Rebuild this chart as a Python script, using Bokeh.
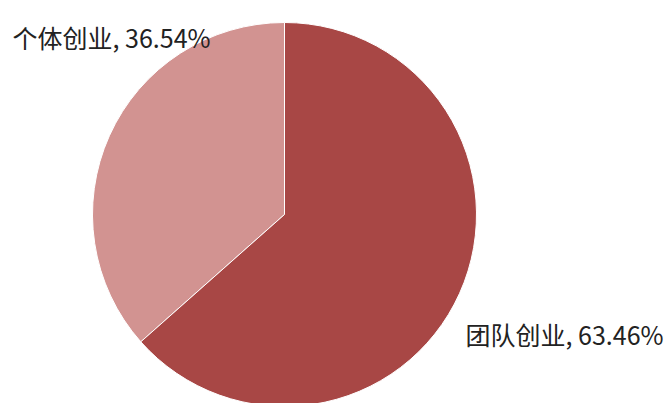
import math
from bokeh.plotting import figure
from bokeh.models import Range1d, ColumnDataSource
from bokeh.core.properties import value
from bokeh.embed import file_html
from bokeh.resources import INLINE

categories = ["个体创业", "团队创业"]
shares = [36.54, 63.46]
colors = ["#D29391", "#A84745"]

W, H = 664, 403
p = figure(width=W, height=H, output_backend="svg", toolbar_location=None,
           x_range=Range1d(0, W), y_range=Range1d(0, H), min_border=0)
p.axis.visible = False
p.grid.visible = False
p.outline_line_color = None
p.background_fill_color = "white"
p.border_fill_color = "white"

cx, cy, r = 284, 189, 192
total = sum(shares)
starts, ends = [], []
a = math.pi / 2
for s in shares:
    starts.append(a)
    a += 2 * math.pi * s / total
    ends.append(a)

src = ColumnDataSource(dict(start=starts, end=ends, color=colors, cat=categories))
p.wedge(x=cx, y=cy, radius=r, start_angle="start", end_angle="end",
        fill_color="color", line_color="white", line_width=1, source=src)

labels = [f"{c}, {s:.2f}%" for c, s in zip(categories, shares)]
lx = [12, 465]
ly = [367, 70]
p.text(x=lx, y=ly, text=labels, text_font=value("Noto Sans CJK SC"),
       text_font_size="25px", text_color="#222222", text_baseline="alphabetic",
       text_align="left")

html = file_html(p, INLINE)
html = html.replace("<body>", '<body style="overflow:hidden">', 1)
open("out.html", "w").write(html)
